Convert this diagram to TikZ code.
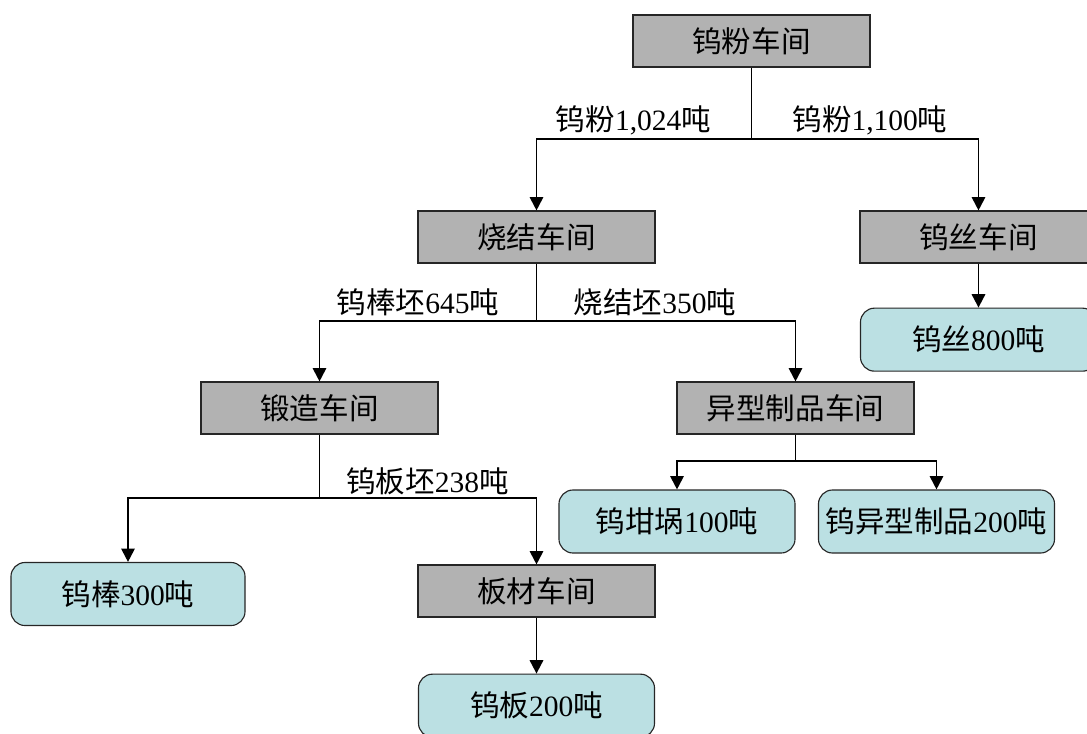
\documentclass[tikz,border=0pt]{standalone}
\usepackage{fontspec}
\setmainfont{Liberation Serif}
\newfontfamily\cjk{Noto Sans CJK SC}
\usepackage{tikz}
\usetikzlibrary{positioning,arrows.meta}
\usepackage{xcolor}
\definecolor{prodfill}{RGB}{187,224,227}
\newcommand{\nm}[1]{{\rmfamily #1}}

\begin{document}
\begin{tikzpicture}[
    x=0.025cm, y=-0.025cm,
    font=\cjk\fontsize{21}{24}\selectfont,
    shop/.style={rectangle, draw=black!85, fill=black!30, line width=0.8pt, minimum width=5.925cm, minimum height=1.3cm, align=center},
    product/.style={rectangle, rounded corners=10pt, draw=black!85, fill=prodfill, line width=0.8pt, minimum width=5.9cm, minimum height=1.575cm, align=center},
    arrow/.style={->, line width=1.4pt, >={Triangle[length=9.5pt,width=9.5pt]}},
    link/.style={line width=1.4pt}
]
\useasboundingbox (0,0) rectangle (1087,733);
\clip (0,0) rectangle (1087,733);

% Nodes
\node[shop] (powder) at (751.5,41) {钨粉车间};
\node[shop] (sinter) at (536.5,237) {烧结车间};
\node[shop] (wire) at (978.5,237) {钨丝车间};
\node[product, below=1.1cm of wire] (wireout) {钨丝\nm{800}吨};
\node[shop] (forge) at (319.5,408) {锻造车间};
\node[shop] (special) at (795.5,408) {异型制品车间};
\node[product] (crucible) at (677,521.5) {钨坩埚\nm{100}吨};
\node[product] (shaped) at (936.5,521.5) {钨异型制品\nm{200}吨};
\node[product, minimum width=5.85cm] (rod) at (128,594) {钨棒\nm{300}吨};
\node[shop] (plate) at (536.5,591) {板材车间};
\node[product, below=1.4cm of plate] (plateout) {钨板\nm{200}吨};

% Split points
\coordinate (s1) at (751.5,139);
\coordinate (s2) at (536.5,321);
\coordinate (s3) at (319.5,498);
\coordinate (s4) at (795.5,461);

% Labels
\node (l1) at (633.5,120) {钨粉\nm{1,024}吨};
\node (l2) at (870,120) {钨粉\nm{1,100}吨};
\node (l3) at (418,302) {钨棒坯\nm{645}吨};
\node (l4) at (655,302) {烧结坯\nm{350}吨};
\node (l5) at (427.5,481) {钨板坯\nm{238}吨};

% Edges
\draw[link] (powder) -- (s1);
\draw[arrow] (s1) -| (sinter);
\draw[arrow] (s1) -| (wire);
\draw[arrow] (wire) -- (wireout);
\draw[link] (sinter) -- (s2);
\draw[arrow] (s2) -| (forge);
\draw[arrow] (s2) -| (special);
\draw[link] (forge) -- (s3);
\draw[arrow] (s3) -| (rod);
\draw[arrow] (s3) -| (plate);
\draw[arrow] (plate) -- (plateout);
\draw[link] (special) -- (s4);
\draw[arrow] (s4) -| (crucible);
\draw[arrow] (s4) -| (shaped);

\end{tikzpicture}
\end{document}
